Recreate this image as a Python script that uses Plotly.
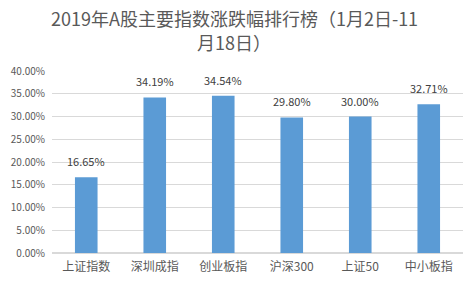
import plotly.graph_objects as go

categories = ["上证指数", "深圳成指", "创业板指", "沪深300", "上证50", "中小板指"]
values = [0.1665, 0.3419, 0.3454, 0.2980, 0.3000, 0.3271]
y_ticks = [0, 0.05, 0.10, 0.15, 0.20, 0.25, 0.30, 0.35, 0.40]
title_lines = ["2019年A股主要指数涨跌幅排行榜（1月2日-11", "月18日）"]

font_family = "Noto Sans CJK SC, Noto Sans, sans-serif"

fig = go.Figure(go.Bar(
    x=categories, y=values,
    marker=dict(color="#5B9BD5", line=dict(width=0)),
    cliponaxis=False,
    width=0.33,
    hoverinfo="x+y",
))

label_annotations = [
    dict(text=f"{v*100:.2f}%", x=c, y=v, xref="x", yref="y",
         xanchor="center", yanchor="bottom", yshift=6, showarrow=False,
         font=dict(size=11, color="#404040"))
    for c, v in zip(categories, values)
]

fig.update_layout(
    width=473, height=286,
    margin=dict(l=52, r=10, t=71, b=33),
    paper_bgcolor="white", plot_bgcolor="white",
    font=dict(family=font_family, color="#595959"),
    showlegend=False,
    annotations=[
        dict(text=title_lines[0], xref="paper", yref="paper", x=0.443, y=1 + (71 - 18) / 182,
             xanchor="center", yanchor="middle", showarrow=False,
             font=dict(size=18, color="#595959")),
        dict(text=title_lines[1], xref="paper", yref="paper", x=0.443, y=1 + (71 - 42) / 182,
             xanchor="center", yanchor="middle", showarrow=False,
             font=dict(size=18, color="#595959")),
    ] + label_annotations,
)
fig.update_yaxes(
    range=[0, 0.40], tickvals=y_ticks, tickformat=".2%",
    showgrid=True, gridcolor="#D9D9D9", gridwidth=1,
    zeroline=True, zerolinecolor="#D9D9D9",
    tickfont=dict(size=10, color="#595959"), ticks="", ticklen=0,
    ticklabelstandoff=6,
    showline=False,
)
fig.update_xaxes(
    tickfont=dict(size=12, color="#595959"),
    showline=False, ticks="",
    ticklabelstandoff=5,
)

fig.write_html("out.html")
